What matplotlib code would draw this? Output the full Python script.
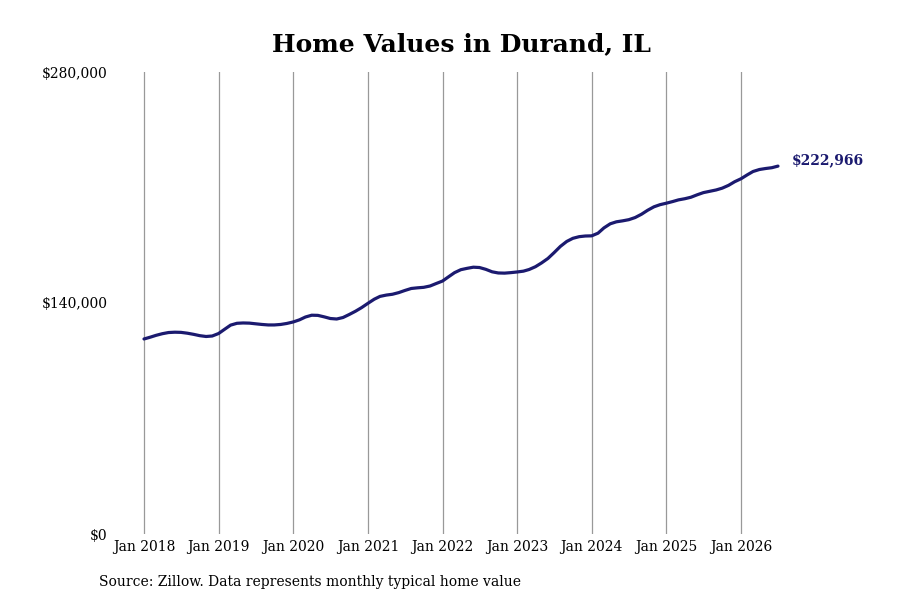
import matplotlib
matplotlib.use("Agg")
import matplotlib.pyplot as plt
import matplotlib.dates as mdates
import pandas as pd

# typical home value, monthly from Jan 2018 to Jul 2026
values = [
    118200, 119300, 120400, 121400, 122100, 122300, 122200, 121700, 121000, 120200, 119700, 120000,
    121500, 124200, 126600, 127700, 127900, 127800, 127400, 127000, 126700, 126700, 127000, 127600,
    128500, 129800, 131500, 132600, 132500, 131600, 130600, 130300, 131200, 133000, 135000, 137200,
    139800, 142300, 144000, 144800, 145300, 146300, 147600, 148800, 149200, 149500, 150300, 151800,
    153300, 156000, 158400, 160200, 161000, 161700, 161500, 160400, 158900, 158200, 158100, 158400,
    158800, 159300, 160300, 162000, 164300, 167000, 170500, 174300, 177300, 179200, 180200, 180600,
    180700, 182300, 185500, 188000, 189200, 189800, 190500, 191800, 193800, 196200, 198300, 199600,
    200500, 201500, 202500, 203200, 204100, 205600, 206900, 207700, 208500, 209600, 211300, 213500,
    215300, 217700, 219700, 220900, 221500, 222000, 222966,
]
dates = pd.date_range("2018-01-01", periods=len(values), freq="MS")

tick_years = list(range(2018, 2027))
tick_dates = [pd.Timestamp(f"{y}-01-01") for y in tick_years]
tick_labels = [f"Jan {y}" for y in tick_years]
y_ticks = [0, 140000, 280000]
y_labels = ["$0", "$140,000", "$280,000"]

navy = "#1b1a6f"
plt.rcParams["font.family"] = ["DejaVu Serif"]

fig = plt.figure(figsize=(9, 6), dpi=100)
ax = fig.add_axes([120 / 900, 66 / 600, 670 / 900, 462 / 600])

ax.plot(dates, values, color=navy, linewidth=2.3, solid_capstyle="round")

# x limits so Jan 2018 sits 24px in from the left edge
d0 = mdates.date2num(tick_dates[0])
d1 = mdates.date2num(tick_dates[-1])
per_px = (d1 - d0) / 597
ax.set_xlim(d0 - 24 * per_px, d0 + 646 * per_px)
ax.set_ylim(0, 280000)

ax.set_xticks(tick_dates)
ax.set_xticklabels(tick_labels, fontsize=10)
ax.set_yticks(y_ticks)
ax.set_yticklabels(y_labels, fontsize=10)
ax.tick_params(axis="both", length=0)
ax.tick_params(axis="y", pad=9)
ax.tick_params(axis="x", pad=4)
ax.grid(axis="x", color="#999999", linewidth=0.9)
ax.grid(axis="y", visible=False)
for s in ax.spines.values():
    s.set_visible(False)

ax.annotate(f"${values[-1]:,}", xy=(dates[-1], values[-1]), xytext=(10, 4),
            textcoords="offset points", va="center", ha="left",
            fontsize=10, fontweight="bold", color=navy)

fig.text(461 / 900, 0.927, "Home Values in Durand, IL", ha="center", va="center",
         fontsize=18, fontweight="bold")
fig.text(99 / 900, 1 - 582 / 600, "Source: Zillow. Data represents monthly typical home value",
         ha="left", va="center", fontsize=10)

fig.savefig("out.png", dpi=100)
